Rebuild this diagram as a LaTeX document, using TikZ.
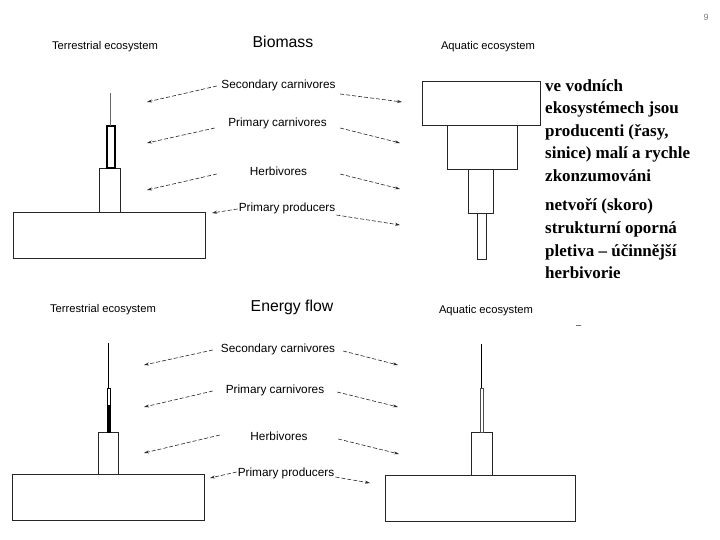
\documentclass[tikz,border=0pt]{standalone}
\usepackage{fontspec}
\setmainfont{Liberation Serif}
\setsansfont{Liberation Sans}
\usetikzlibrary{arrows.meta}
\begin{document}
\begin{tikzpicture}[x=1pt,y=-1pt,
  lbl/.style={font=\sffamily\fontsize{11.8}{13}\selectfont, text=black, inner sep=1pt},
  ttl/.style={font=\sffamily\fontsize{11.2}{13}\selectfont, text=black, inner sep=0pt},
  big/.style={font=\sffamily\fontsize{15.8}{18}\selectfont, text=black, inner sep=0pt},
  arr/.style={-{Stealth[length=5pt,width=3pt]}, dash pattern=on 4pt off 2pt, line width=0.6pt, black!85},
  box/.style={draw=black!85, line width=0.9pt},
  cz/.style={font=\bfseries\fontsize{17}{20}\selectfont, anchor=base west, inner sep=0pt}
]
\useasboundingbox (0,0) rectangle (720,540);

% page number
\node[font=\sffamily\fontsize{9}{10}\selectfont, text=black!50, inner sep=0pt] (pg) at (706,17) {9};

% ================= TOP: Biomass =================
\node[ttl] (tt1) at (105,47) {Terrestrial ecosystem};
\node[big] (bio) at (283,42) {Biomass};
\node[ttl] (aq1) at (488,47) {Aquatic ecosystem};

\node[lbl, minimum width=123pt] (sc1) at (278.5,85) {Secondary carnivores};
\node[lbl, minimum width=125pt] (pc1) at (277.5,123) {Primary carnivores};
\node[lbl, minimum width=123pt] (hb1) at (278.5,171) {Herbivores};
\node[lbl] (pp1) at (287,208) {Primary producers};

\coordinate (sc1L) at (147,102);
\coordinate (pc1L) at (147,143);
\coordinate (hb1L) at (147,190);
\coordinate (pp1L) at (212,213);
\coordinate (sc1R) at (402,102);
\coordinate (pc1R) at (400,143);
\coordinate (hb1R) at (400,189);
\coordinate (pp1R) at (400,225);

\draw[arr] ([yshift=-1pt]sc1.west) -- (sc1L);
\draw[arr] ([yshift=-5pt]pc1.west) -- (pc1L);
\draw[arr] ([yshift=-3pt]hb1.west) -- (hb1L);
\draw[arr] ([yshift=-1pt]pp1.west) -- (pp1L);
\draw[arr] ([yshift=-9pt]sc1.east) -- (sc1R);
\draw[arr] ([yshift=-5pt]pc1.east) -- (pc1R);
\draw[arr] ([yshift=-3pt]hb1.east) -- (hb1R);
\draw[arr] ([yshift=-7pt]pp1.east) -- (pp1R);

% terrestrial biomass pyramid
\draw[box] (13,212) rectangle (205,258);
\draw[box] (99,168) rectangle (120,212);
\draw[draw=black, line width=1.3pt] (107,126) rectangle (115,168);
\draw[black!60, line width=0.5pt] (110,93) -- (110,126);

% aquatic biomass inverted pyramid
\draw[box] (422,81) rectangle (540,125);
\draw[box] (447,125) rectangle (517,169);
\draw[box] (468,169) rectangle (493,213);
\draw[box] (477,213) rectangle (486,259);

% Czech text
\node[cz] (c1) at (545,91.5) {ve vodních};
\node[cz] (c2) at (545,114) {ekosystémech jsou};
\node[cz] (c3) at (545,136.5) {producenti (řasy,};
\node[cz] (c4) at (545,159) {sinice) malí a rychle};
\node[cz] (c5) at (545,181.5) {zkonzumováni};
\node[cz] (c6) at (545,211) {netvoří (skoro)};
\node[cz] (c7) at (545,233.5) {strukturní oporná};
\node[cz] (c8) at (545,256) {pletiva – účinnější};
\node[cz] (c9) at (545,278.5) {herbivorie};

% ================= BOTTOM: Energy flow =================
\node[ttl] (tt2) at (103,310) {Terrestrial ecosystem};
\node[big] (ef) at (292,307) {Energy flow};
\node[ttl] (aq2) at (486,311) {Aquatic ecosystem};

\node[lbl, minimum width=130pt] (sc2) at (278,349) {Secondary carnivores};
\node[lbl, minimum width=124pt] (pc2) at (275,390) {Primary carnivores};
\node[lbl, minimum width=118pt] (hb2) at (279,436) {Herbivores};
\node[lbl] (pp2) at (286,473) {Primary producers};

\coordinate (sc2L) at (144,365);
\coordinate (pc2L) at (144,407);
\coordinate (hb2L) at (144,453);
\coordinate (pp2L) at (210,478);
\coordinate (sc2R) at (398,365);
\coordinate (pc2R) at (398,407);
\coordinate (hb2R) at (399,454);
\coordinate (pp2R) at (370,483);

\draw[arr] ([yshift=-1pt]sc2.west) -- (sc2L);
\draw[arr] ([yshift=-1pt]pc2.west) -- (pc2L);
\draw[arr] ([yshift=1pt]hb2.west) -- (hb2L);
\draw[arr] ([yshift=1pt]pp2.west) -- (pp2L);
\draw[arr] ([yshift=-2pt]sc2.east) -- (sc2R);
\draw[arr] ([yshift=-2pt]pc2.east) -- (pc2R);
\draw[arr] ([yshift=-3pt]hb2.east) -- (hb2R);
\draw[arr] ([yshift=-4pt]pp2.east) -- (pp2R);

% terrestrial energy pyramid
\draw[box] (12,474) rectangle (204,520);
\draw[box] (98,432) rectangle (118,474);
\draw[black, line width=0.7pt] (107,388) rectangle (110,432);
\fill[black] (107,405) rectangle (110,432);
\draw[black, line width=0.8pt] (108.5,343) -- (108.5,388);

% aquatic energy pyramid
\draw[box] (385,475) rectangle (575,521);
\draw[box] (471,432) rectangle (492,475);
\draw[black!70, line width=0.5pt] (480.5,388) rectangle (482.8,432);
\draw[black, line width=0.7pt] (481.5,344) -- (481.5,388);
\draw[black!55, line width=0.6pt] (576,325) -- (581,325);

\end{tikzpicture}
\end{document}
